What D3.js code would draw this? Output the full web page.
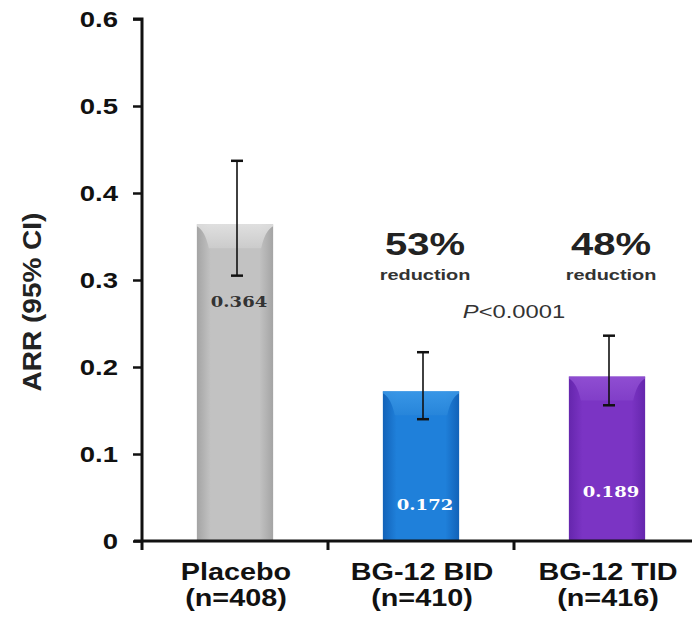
<!DOCTYPE html>
<html>
<head>
<meta charset="utf-8">
<script src="https://cdn.jsdelivr.net/npm/d3@7"></script>
<style>
  body { margin: 0; background: #fff; }
  svg text { font-family: Arial, "Liberation Sans", sans-serif; }
</style>
</head>
<body>
<div id="chart"></div>
<script>
// data
var groups = ['Placebo', 'BG-12 BID', 'BG-12 TID'];
var groupN = ['(n=408)', '(n=410)', '(n=416)'];
var arr = [0.364, 0.172, 0.189];
var ciLow = [0.305, 0.140, 0.156];
var ciHigh = [0.437, 0.217, 0.236];
var reductions = [null, '53%', '48%'];
var yTicks = [0, 0.1, 0.2, 0.3, 0.4, 0.5, 0.6];

var w = 692, h = 619;
var plotLeft = 142, plotTop = 19, plotBottom = 541;

var svg = d3.select('#chart').append('svg')
  .attr('width', w)
  .attr('height', h);

var y = d3.scaleLinear().domain([0, 0.6]).range([plotBottom, plotTop]);
var x = d3.scaleBand().domain(groups).range([plotLeft, 700])
  .paddingInner(0.59).paddingOuter(0.295);
var mid = function (d) { return x(d) + x.bandwidth() / 2; };

// the slide text is drawn wide, so squash everything through this
function stretch(sel, sx) {
  sel.each(function () {
    var t = d3.select(this);
    var tx = +t.attr('x') || 0, ty = +t.attr('y') || 0;
    t.attr('x', 0).attr('y', 0)
      .attr('transform', 'translate(' + tx + ',' + ty + ') scale(' + sx + ',1)');
  });
}

var fills = [
  { edge: '#a4a4a4', mid: '#c2c2c2', cap: '#e4e4e4', capEdge: '#cdcdcd', text: '#333' },
  { edge: '#1262b8', mid: '#1f80da', cap: '#3d9ae8', capEdge: '#2886da', text: '#fff' },
  { edge: '#6526ad', mid: '#7b34c4', cap: '#9352d4', capEdge: '#8240c9', text: '#fff' }
];

var defs = svg.append('defs');
fills.forEach(function (f, i) {
  var g = defs.append('linearGradient').attr('id', 'body' + i)
    .attr('x1', 0).attr('x2', 1).attr('y1', 0).attr('y2', 0);
  g.append('stop').attr('offset', '0%').attr('stop-color', f.edge);
  g.append('stop').attr('offset', '18%').attr('stop-color', f.mid);
  g.append('stop').attr('offset', '82%').attr('stop-color', f.mid);
  g.append('stop').attr('offset', '100%').attr('stop-color', f.edge);
  var c = defs.append('linearGradient').attr('id', 'cap' + i)
    .attr('x1', 0).attr('x2', 0).attr('y1', 0).attr('y2', 1);
  c.append('stop').attr('offset', '0%').attr('stop-color', f.cap);
  c.append('stop').attr('offset', '100%').attr('stop-color', f.capEdge);
});

// bars
var bars = svg.selectAll('g.bar')
  .data(groups)
  .enter()
  .append('g')
  .attr('class', 'bar');

bars.append('rect')
  .attr('x', function (d) { return x(d); })
  .attr('y', function (d, i) { return y(arr[i]); })
  .attr('width', x.bandwidth())
  .attr('height', function (d, i) { return y(0) - y(arr[i]); })
  .attr('fill', function (d, i) { return 'url(#body' + i + ')'; });

// bevelled top of each bar
bars.append('path')
  .attr('fill', function (d, i) { return 'url(#cap' + i + ')'; })
  .attr('d', function (d, i) {
    var x0 = x(d), x1 = x0 + x.bandwidth(), t = y(arr[i]), b = t + 24;
    return 'M' + x0 + ',' + t + 'L' + x1 + ',' + t + 'L' + x1 + ',' + (t + 2) +
      'Q' + (x1 - 8) + ',' + (t + 6) + ' ' + (x1 - 12) + ',' + b +
      'L' + (x0 + 12) + ',' + b +
      'Q' + (x0 + 8) + ',' + (t + 6) + ' ' + x0 + ',' + (t + 2) + 'Z';
  })
  .attr('opacity', 0.85);

// error bars
var cx = function (d) { return mid(d) + 2; };
bars.append('line')
  .attr('x1', cx).attr('x2', cx)
  .attr('y1', function (d, i) { return y(ciLow[i]); })
  .attr('y2', function (d, i) { return y(ciHigh[i]); })
  .attr('stroke', '#111').attr('stroke-width', 1.6);
[ciLow, ciHigh].forEach(function (ci) {
  bars.append('line')
    .attr('x1', function (d) { return cx(d) - 6; })
    .attr('x2', function (d) { return cx(d) + 6; })
    .attr('y1', function (d, i) { return y(ci[i]); })
    .attr('y2', function (d, i) { return y(ci[i]); })
    .attr('stroke', '#111').attr('stroke-width', 2.5);
});

// value labels
bars.append('text')
  .attr('x', function (d) { return mid(d) + 4; })
  .attr('y', function (d, i) { return i === 0 ? y(arr[i]) + 83 : y(0) - 31 + (i === 2 ? -13 : 0); })
  .attr('text-anchor', 'middle')
  .style('font-family', '"DejaVu Serif", serif')
  .style('font-weight', 'bold')
  .style('font-size', '15px')
  .attr('fill', function (d, i) { return fills[i].text; })
  .text(function (d, i) { return arr[i].toFixed(3); })
  .call(stretch, 1.2);

// reduction annotations
var annGroups = groups.filter(function (d, i) { return reductions[i]; });
svg.selectAll('text.pct')
  .data(annGroups)
  .enter().append('text')
  .attr('class', 'pct')
  .attr('x', function (d) { return mid(d) + 4; })
  .attr('y', 255)
  .attr('text-anchor', 'middle')
  .style('font-weight', 'bold')
  .style('font-size', '32px')
  .attr('fill', '#222')
  .text(function (d) { return reductions[groups.indexOf(d)]; })
  .call(stretch, 1.25);
svg.selectAll('text.red')
  .data(annGroups)
  .enter().append('text')
  .attr('class', 'red')
  .attr('x', function (d) { return mid(d) + 4; })
  .attr('y', 280)
  .attr('text-anchor', 'middle')
  .style('font-weight', 'bold')
  .style('font-size', '15px')
  .attr('fill', '#333')
  .text('reduction')
  .call(stretch, 1.33);

var p = svg.append('text')
  .attr('x', 514).attr('y', 318)
  .attr('text-anchor', 'middle')
  .style('font-size', '19px')
  .attr('fill', '#333');
p.append('tspan').style('font-style', 'italic').text('P');
p.append('tspan').text('<0.0001');
p.call(stretch, 1.25);

// y axis
var yAxis = svg.append('g')
  .attr('transform', 'translate(' + plotLeft + ',0)')
  .call(d3.axisLeft(y).tickValues(yTicks).tickSize(9).tickPadding(15)
    .tickFormat(function (d) { return d === 0 ? '0' : d3.format('.1f')(d); }));
yAxis.select('.domain').attr('stroke', '#111').attr('stroke-width', 3)
  .attr('d', 'M-9,' + plotTop + 'H0V' + plotBottom);
yAxis.selectAll('.tick line').attr('stroke', '#111').attr('stroke-width', 2.5);
yAxis.selectAll('.tick text')
  .style('font-size', '22px').style('font-weight', 'bold')
  .attr('fill', '#111')
  .attr('dy', '0.36em')
  .call(stretch, 1.25);

// x axis, ticks between the categories
var xAxis = svg.append('g').attr('transform', 'translate(0,' + plotBottom + ')');
xAxis.append('path')
  .attr('d', 'M' + (plotLeft - 8) + ',0H' + w)
  .attr('stroke', '#111').attr('stroke-width', 3);
xAxis.selectAll('line.tick')
  .data(groups)
  .enter().append('line')
  .attr('class', 'tick')
  .attr('x1', function (d) { return x(d) - x.step() * x.paddingInner() / 2; })
  .attr('x2', function (d) { return x(d) - x.step() * x.paddingInner() / 2; })
  .attr('y1', 0).attr('y2', 9)
  .attr('stroke', '#111').attr('stroke-width', 3);

// category labels
svg.selectAll('text.xl')
  .data(groups)
  .enter().append('text')
  .attr('class', 'xl')
  .attr('x', function (d) { return mid(d) + 1; })
  .attr('y', 580)
  .attr('text-anchor', 'middle')
  .style('font-weight', 'bold')
  .style('font-size', '24px')
  .attr('fill', '#111')
  .text(function (d) { return d; })
  .call(stretch, 1.2);
svg.selectAll('text.xn')
  .data(groups)
  .enter().append('text')
  .attr('class', 'xn')
  .attr('x', function (d) { return mid(d) + 1; })
  .attr('y', 606)
  .attr('text-anchor', 'middle')
  .style('font-weight', 'bold')
  .style('font-size', '24px')
  .attr('fill', '#111')
  .text(function (d, i) { return groupN[i]; })
  .call(stretch, 1.2);

// y title
svg.append('text')
  .attr('transform', 'translate(41,302) rotate(-90) scale(1.12,1)')
  .attr('text-anchor', 'middle')
  .style('font-weight', 'bold')
  .style('font-size', '25px')
  .attr('fill', '#222')
  .text('ARR (95% CI)');
</script>
</body>
</html>
